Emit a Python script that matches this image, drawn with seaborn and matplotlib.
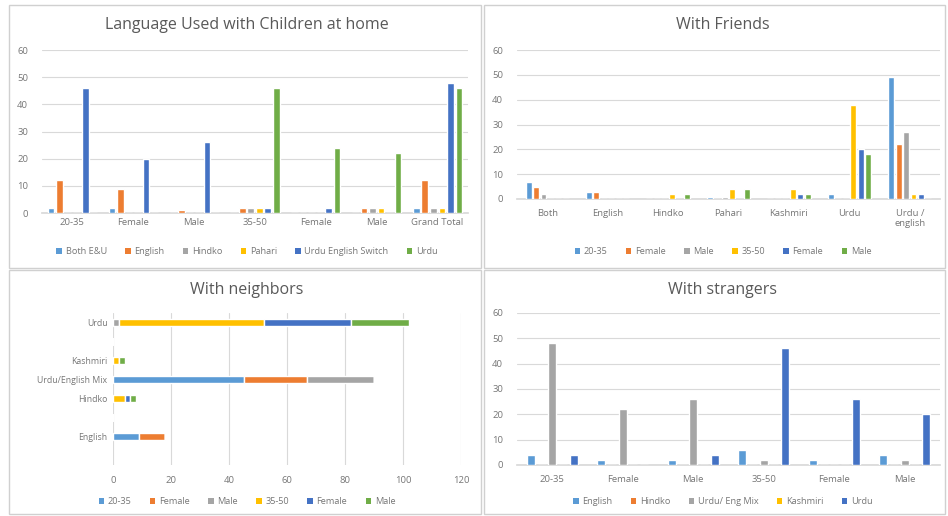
import matplotlib
matplotlib.use("Agg")
import matplotlib.pyplot as plt
from matplotlib.patches import Patch, Rectangle
import seaborn as sns
import pandas as pd

# ---- data: Language Used with Children at home ----
home_groups = ["20-35", "Female", "Male", "35-50", "Female", "Male", "Grand Total"]
home_series = ["Both E&U", "English", "Hindko", "Pahari", "Urdu English Switch", "Urdu"]
home_both = [2, 2, 0, 0, 0, 0, 2]
home_english = [12, 9, 1, 2, 0, 2, 12]
home_hindko = [0, 0, 0, 2, 0, 2, 2]
home_pahari = [0, 0, 0, 2, 0, 2, 2]
home_switch = [46, 20, 26, 2, 2, 0, 48]
home_urdu = [0, 0, 0, 46, 24, 22, 46]

# ---- data: With Friends ----
fr_groups = ["Both", "English", "Hindko", "Pahari", "Kashmiri", "Urdu", "Urdu /\nenglish"]
fr_series = ["20-35", "Female", "Male", "35-50", "Female", "Male"]
fr_young = [7, 3, 0, 1, 0, 2, 49]
fr_young_f = [5, 3, 0, 0, 0, 0, 22]
fr_young_m = [2, 0, 0, 1, 0, 0, 27]
fr_old = [0, 0, 2, 4, 4, 38, 2]
fr_old_f = [0, 0, 0, 0, 2, 20, 2]
fr_old_m = [0, 0, 2, 4, 2, 18, 0]

# ---- data: With neighbors (stacked, top to bottom) ----
nb_groups = ["Urdu", " ", "Kashmiri", "Urdu/English Mix", "Hindko", "  ", "English"]
nb_series = ["20-35", "Female", "Male", "35-50", "Female", "Male"]
nb_young = [0, 0, 0, 45, 0, 0, 9]
nb_young_f = [0, 0, 0, 22, 0, 0, 9]
nb_young_m = [2, 0, 0, 23, 0, 0, 0]
nb_old = [50, 0, 2, 0, 4, 0, 0]
nb_old_f = [30, 0, 0, 0, 2, 0, 0]
nb_old_m = [20, 0, 2, 0, 2, 0, 0]
nb_ticks = [0, 20, 40, 60, 80, 100, 120]

# ---- data: With strangers ----
st_groups = ["20-35", "Female", "Male", "35-50", "Female", "Male"]
st_series = ["English", "Hindko", "Urdu/ Eng Mix", "Kashmiri", "Urdu"]
st_english = [4, 2, 2, 6, 2, 4]
st_hindko = [0, 0, 0, 0, 0, 0]
st_mix = [48, 22, 26, 2, 0, 2]
st_kashmiri = [0, 0, 0, 0, 0, 0]
st_urdu = [4, 0, 4, 46, 26, 20]

y_ticks = [0, 10, 20, 30, 40, 50, 60]

BLUE, ORANGE, GREY, YELLOW, DBLUE, GREEN = "#5B9BD5", "#ED7D31", "#A5A5A5", "#FFC000", "#4472C4", "#70AD47"
six_colors = [BLUE, ORANGE, GREY, YELLOW, DBLUE, GREEN]
st_colors = [BLUE, ORANGE, GREY, YELLOW, DBLUE]

sns.set_theme(style="white")
plt.rcParams["font.family"] = ["Open Sans", "DejaVu Sans"]
TXT = "#767676"
GRID = "#d9d9d9"

W, H = 948, 516
fig = plt.figure(figsize=(W / 100, H / 100), dpi=100)


def px_axes(x0, y0, x1, y1):
    # pixel box (top-left origin) -> figure axes
    return fig.add_axes([x0 / W, 1 - y1 / H, (x1 - x0) / W, (y1 - y0) / H])


def style_axes(ax):
    for s in ["top", "right", "left"]:
        ax.spines[s].set_visible(False)
    ax.spines["bottom"].set_color(GRID)
    ax.tick_params(length=0, labelsize=6.8, colors=TXT)
    ax.set_xlabel("")
    ax.set_ylabel("")


def grouped(ax, groups, names, values, colors, width, gap):
    rows = []
    for s_i, vals in enumerate(values):
        for g_i, v in enumerate(vals):
            rows.append({"group": f"g{g_i}", "series": f"s{s_i}", "value": v})
    df = pd.DataFrame(rows)
    pal = {f"s{i}": c for i, c in enumerate(colors)}
    sns.barplot(data=df, x="group", y="value", hue="series", palette=pal,
                hue_order=list(pal), width=width, gap=gap, saturation=1,
                legend=False, ax=ax, zorder=3)
    ax.set_xticks(range(len(groups)))
    ax.set_xticklabels(groups)
    ax.set_ylim(0, 60)
    ax.set_yticks(y_ticks)
    ax.yaxis.grid(True, color=GRID, linewidth=0.8)
    ax.set_axisbelow(True)
    style_axes(ax)
    ax.tick_params(axis="y", pad=10)


def legend(names, colors, x, y, spacing=1.6):
    handles = [Patch(facecolor=c, edgecolor="none") for c in colors]
    fig.legend(handles, names, loc="center", bbox_to_anchor=(x / W, 1 - y / H),
               ncol=len(names), frameon=False, fontsize=6.6, labelcolor=TXT,
               handlelength=0.6, handleheight=0.6, handletextpad=0.4,
               columnspacing=spacing)


def title(text, x, y):
    fig.text(x / W, 1 - y / H, text, ha="center", va="center",
             fontsize=11.5, color="#595959")


# panel frames
for (x0, y0, x1, y1) in [(9, 5, 481, 268), (484, 5, 945, 268),
                         (9, 270, 481, 514), (484, 270, 945, 514)]:
    fig.add_artist(Rectangle((x0 / W, 1 - y1 / H), (x1 - x0) / W, (y1 - y0) / H,
                             transform=fig.transFigure, fill=False,
                             edgecolor="#d0d0d0", linewidth=1.0))

# 1. children at home
ax1 = px_axes(42, 50, 468, 213)
grouped(ax1, home_groups, home_series,
        [home_both, home_english, home_hindko, home_pahari, home_switch, home_urdu],
        six_colors, 0.84, 0.22)
title("Language Used with Children at home", 247, 25)
legend(home_series, six_colors, 247, 252, 2.0)

# 2. friends
ax2 = px_axes(517, 50, 940, 199)
grouped(ax2, fr_groups, fr_series,
        [fr_young, fr_young_f, fr_young_m, fr_old, fr_old_f, fr_old_m],
        six_colors, 0.74, 0.2)
ax2.tick_params(axis="x", pad=7)
title("With Friends", 723, 25)
legend(fr_series, six_colors, 723, 252, 2.0)

# 3. neighbors, stacked horizontal
ax3 = px_axes(113, 313, 461, 465)
left = [0] * len(nb_groups)
for vals, c in zip([nb_young, nb_young_f, nb_young_m, nb_old, nb_old_f, nb_old_m], six_colors):
    sns.barplot(x=vals, y=nb_groups, orient="y", color=c, saturation=1,
                width=0.36, left=left, ax=ax3, zorder=3)
    left = [a + b for a, b in zip(left, vals)]
ax3.set_xlim(0, 120)
ax3.set_xticks(nb_ticks)
ax3.set_ylim(7.5, -0.5)
ax3.xaxis.grid(True, color=GRID, linewidth=0.8)
ax3.set_axisbelow(True)
style_axes(ax3)
ax3.spines["bottom"].set_visible(False)
ax3.tick_params(axis="y", labelsize=6.3, pad=4)
ax3.tick_params(axis="x", pad=8)
title("With neighbors", 247, 290)
legend(nb_series, six_colors, 247, 502, 2.0)

# 4. strangers
ax4 = px_axes(517, 313, 940, 465)
grouped(ax4, st_groups, st_series,
        [st_english, st_hindko, st_mix, st_kashmiri, st_urdu],
        st_colors, 0.76, 0.25)
ax4.tick_params(axis="x", pad=7)
title("With strangers", 723, 290)
legend(st_series, st_colors, 723, 502, 2.0)

fig.savefig("out.png", dpi=100)
